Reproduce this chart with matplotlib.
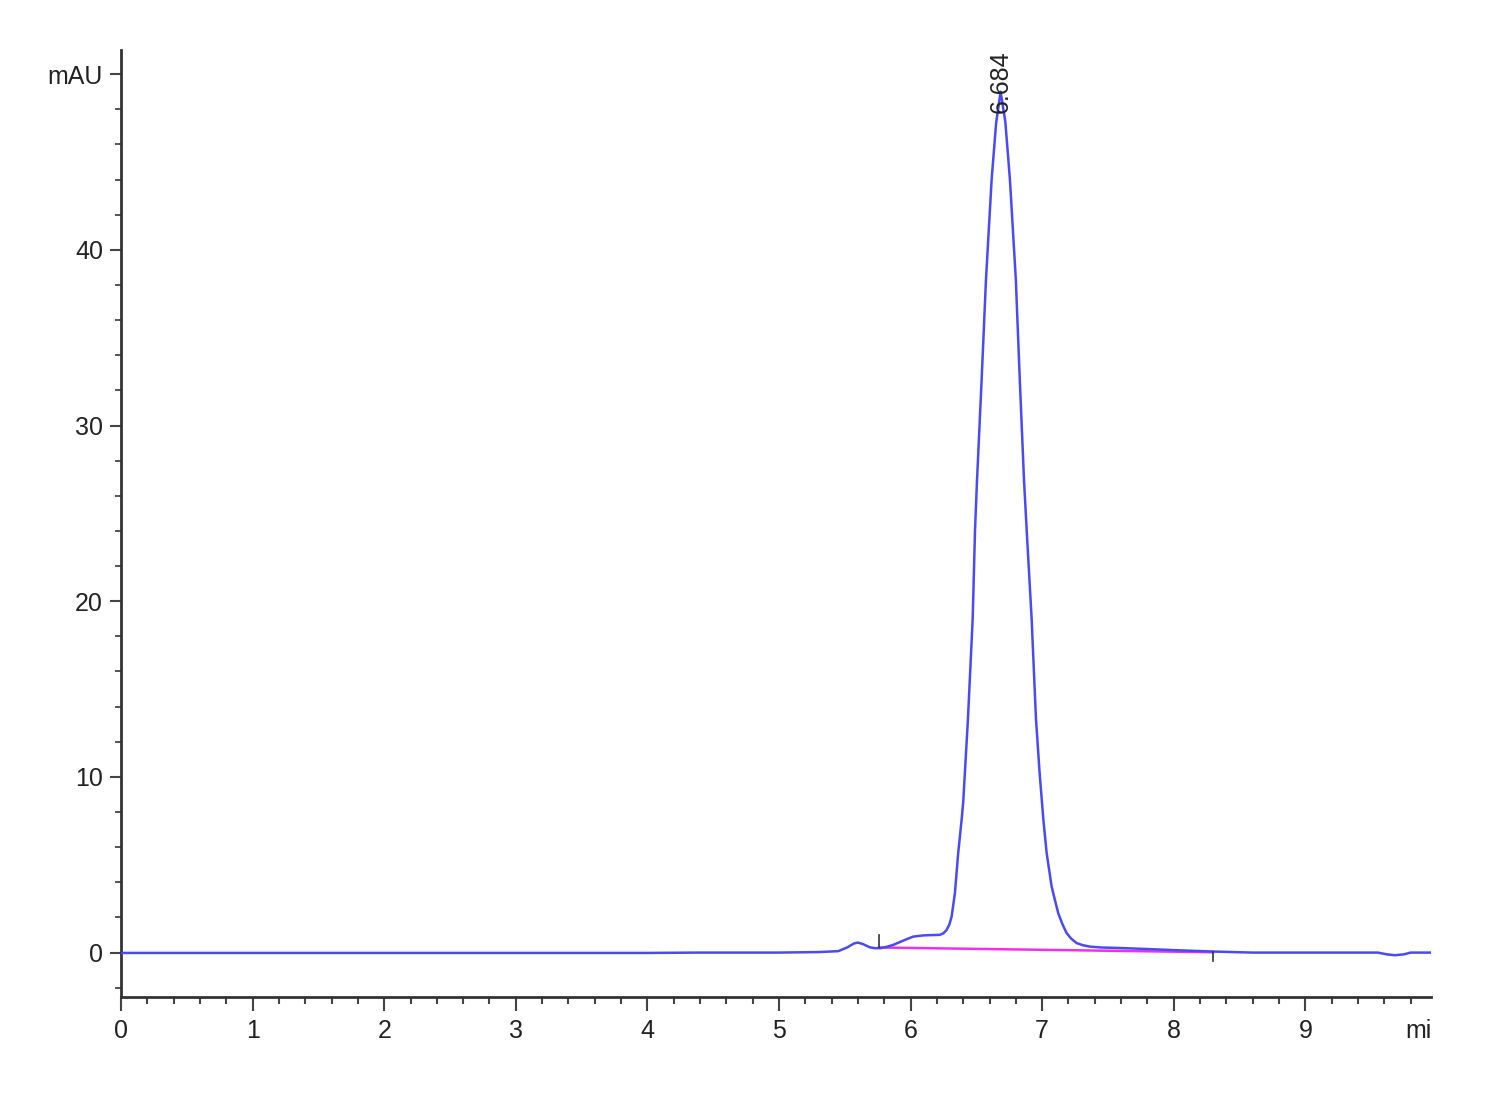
import matplotlib
matplotlib.use("Agg")
import matplotlib.pyplot as plt
import matplotlib.transforms as mtransforms
from matplotlib.ticker import MultipleLocator, FixedLocator
from matplotlib.transforms import Bbox, TransformedBbox

# ---- data ----
time_min = [0.0, 0.5, 1.0, 1.5, 2.0, 2.5, 3.0, 3.5, 4.0, 4.4, 5.0, 5.3, 5.45,
            5.52, 5.57, 5.60, 5.64, 5.69, 5.73, 5.77, 5.82, 5.869, 5.95, 6.02,
            6.10, 6.18, 6.223, 6.25, 6.274, 6.295, 6.312, 6.337, 6.362, 6.388,
            6.40, 6.436, 6.472, 6.49, 6.505, 6.54, 6.573, 6.616, 6.65, 6.684,
            6.72, 6.755, 6.80, 6.83, 6.862, 6.882, 6.92, 6.953, 6.98, 7.009,
            7.034, 7.072, 7.10, 7.122, 7.155, 7.186, 7.22, 7.262, 7.31, 7.363,
            7.45, 7.55, 7.74, 8.0, 8.3, 8.6, 9.0, 9.55, 9.62, 9.68, 9.75, 9.8,
            9.95]
signal_mau = [-0.02, -0.02, -0.02, -0.02, -0.02, -0.02, -0.02, -0.02, -0.02,
              0.0, 0.0, 0.03, 0.08,
              0.30, 0.52, 0.57, 0.48, 0.30, 0.25, 0.25, 0.33, 0.44, 0.70, 0.91,
              0.98, 1.0, 1.01, 1.1, 1.29, 1.6, 2.05, 3.39, 5.67, 7.57,
              8.55, 13.3, 19.0, 24.1, 26.9, 32.6, 38.3, 44.0, 47.2, 49.0,
              47.3, 44.0, 38.3, 32.6, 26.9, 24.1, 19.0, 13.3, 10.3, 7.58,
              5.67, 3.76, 2.9, 2.25, 1.6, 1.11, 0.8, 0.54, 0.42, 0.34,
              0.29, 0.27, 0.22, 0.14, 0.06, 0.0, 0.0, 0.0, -0.1, -0.15, -0.1, 0.0,
              0.0]

baseline_time = [5.76, 8.30]
baseline_mau = [0.29, 0.02]

peak_rt = [6.684]
peak_labels = ["6.684"]

x_major = [0, 1, 2, 3, 4, 5, 6, 7, 8, 9]
y_major = [0, 10, 20, 30, 40, 50]
y_major_labels = ["0", "10", "20", "30", "40", "mAU"]

# ---- figure ----
plt.rcParams['font.family'] = ['Liberation Sans', 'DejaVu Sans']

fig = plt.figure(figsize=(15, 11), dpi=100)
ax = fig.add_axes([0.0807, 0.0936, 0.954 - 0.0807, 0.9545 - 0.0936])

ax.plot(time_min, signal_mau, color='#4a4af2', lw=1.8, solid_joinstyle='round', zorder=3)
ax.plot(baseline_time, baseline_mau, color='#ee30ee', lw=1.8, zorder=2)
# integration start / end markers
ax.plot([baseline_time[0], baseline_time[0]], [baseline_mau[0], baseline_mau[0] + 0.7],
        color='#333333', lw=1.2, zorder=4)
ax.plot([baseline_time[1], baseline_time[1]], [baseline_mau[1], baseline_mau[1] - 0.5],
        color='#333333', lw=1.2, zorder=4)

for rt, lab in zip(peak_rt, peak_labels):
    ax.text(rt + 0.005, 47.8, lab, rotation=90, ha='center', va='bottom',
            fontsize=18, color='#222222', zorder=5)

ax.set_xlim(0, 9.955)
ax.set_ylim(-2.53, 51.37)

for s in ['top', 'right']:
    ax.spines[s].set_visible(False)
for s in ['left', 'bottom']:
    ax.spines[s].set_color('#333333')
    ax.spines[s].set_linewidth(2.0)

ax.xaxis.set_major_locator(FixedLocator(x_major))
ax.xaxis.set_minor_locator(MultipleLocator(0.2))
ax.set_xticklabels([str(v) for v in x_major])
ax.yaxis.set_major_locator(FixedLocator(y_major))
ax.yaxis.set_minor_locator(MultipleLocator(2))
ax.set_yticklabels(y_major_labels)

ax.tick_params(axis='x', which='major', direction='out', length=10, width=1.5,
               color='#444444', labelsize=18, pad=6, labelcolor='#222222')
ax.tick_params(axis='x', which='minor', direction='out', length=5, width=1.5, color='#444444')
ax.tick_params(axis='y', which='major', direction='out', length=8, width=1.5,
               color='#444444', labelsize=18, pad=5, labelcolor='#222222')
ax.tick_params(axis='y', which='minor', direction='out', length=4, width=1.3, color='#444444')

# "min" unit label, clipped at the axis end like the original
t = ax.text(9.76, -2.53, "min", ha='left', va='top', fontsize=18, color='#222222')
t.set_transform(ax.transData + mtransforms.ScaledTranslation(0, -16 / 72, fig.dpi_scale_trans))
ax_pos = ax.get_position()
clip = TransformedBbox(Bbox.from_extents(0, 0, ax_pos.x1, 1), fig.transFigure)
t.set_clip_box(clip)
t.set_clip_on(True)

fig.savefig("out.png", dpi=100, facecolor='white')
